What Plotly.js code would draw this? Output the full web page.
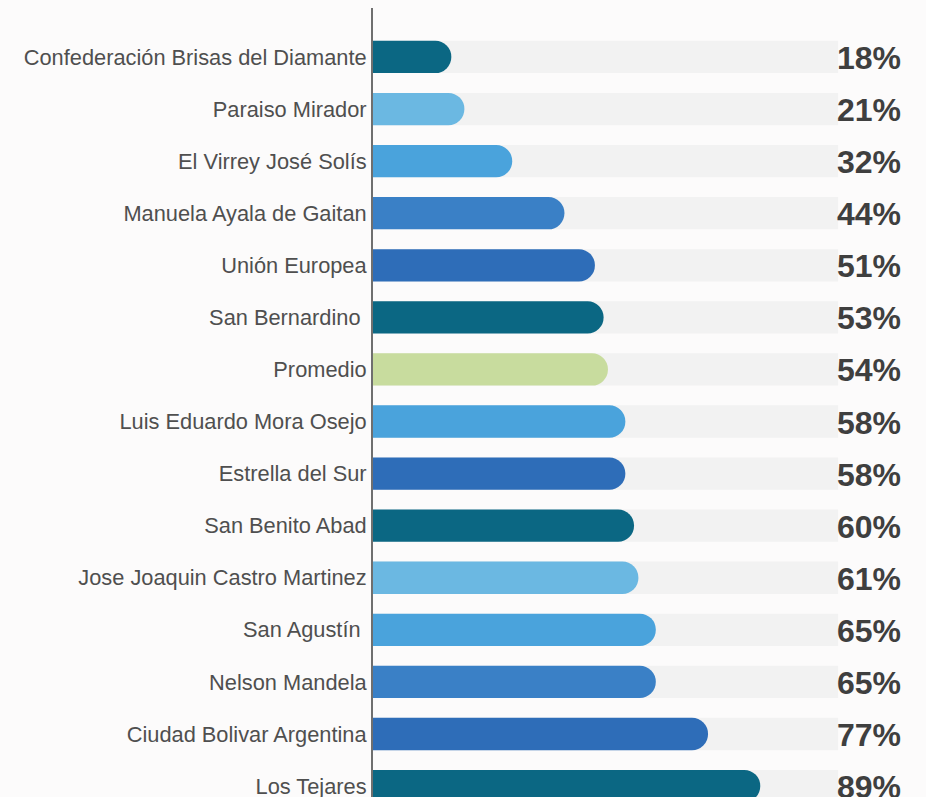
<!DOCTYPE html>
<html>
<head>
<meta charset="utf-8">
<script src="https://cdn.plot.ly/plotly-3.0.1.min.js"></script>
<style>
  html, body { margin: 0; padding: 0; background: #fcfbfb; }
  #chart { width: 926px; height: 797px; }
</style>
</head>
<body>
<div id="chart"></div>
<script>
const categories = [
  "Confederación Brisas del Diamante",
  "Paraiso Mirador",
  "El Virrey José Solís",
  "Manuela Ayala de Gaitan",
  "Unión Europea",
  "San Bernardino\u00a0",
  "Promedio",
  "Luis Eduardo Mora Osejo",
  "Estrella del Sur",
  "San Benito Abad",
  "Jose Joaquin Castro Martinez",
  "San Agustín\u00a0",
  "Nelson Mandela",
  "Ciudad Bolivar Argentina",
  "Los Tejares"
];
const values = [18, 21, 32, 44, 51, 53, 54, 58, 58, 60, 61, 65, 65, 77, 89];
const labels = ["18%", "21%", "32%", "44%", "51%", "53%", "54%", "58%", "58%", "60%", "61%", "65%", "65%", "77%", "89%"];
const barColors = [
  "#0b6783", "#6bb8e2", "#4aa3dc", "#3a80c6", "#2e6db8",
  "#0b6783", "#c8dc9e", "#4aa3dc", "#2e6db8", "#0b6783",
  "#6bb8e2", "#4aa3dc", "#3a80c6", "#2e6db8", "#0b6783"
];
const trackValue = 106.9;

const traces = [
  {
    type: "bar", orientation: "h",
    y: categories, x: categories.map(() => trackValue),
    marker: { color: "#f2f2f2" },
    width: 0.62, offset: -0.31, hoverinfo: "skip"
  },
  {
    type: "bar", orientation: "h",
    y: categories, x: values,
    marker: { color: barColors, cornerradius: 16 },
    width: 0.62, offset: -0.31, hoverinfo: "skip"
  }
];

const annotations = categories.map((c, i) => ({
  x: trackValue, y: c, xref: "x", yref: "y",
  text: labels[i], showarrow: false, xanchor: "left", yanchor: "middle",
  xshift: -3, yshift: -1,
  font: { family: "Liberation Sans, Arial, sans-serif", size: 32, color: "#3f3f3f", weight: "bold" }
}));

const layout = {
  width: 926, height: 797,
  margin: { l: 373, r: 0, t: 8, b: 0, pad: 0 },
  paper_bgcolor: "#fcfbfb",
  plot_bgcolor: "rgba(0,0,0,0)",
  barmode: "group",
  showlegend: false,
  xaxis: {
    range: [0, 127.1], showgrid: false, zeroline: false, showline: false,
    showticklabels: false, ticks: "", fixedrange: true
  },
  yaxis: {
    type: "category",
    range: [14.21, -0.94],
    showgrid: false, zeroline: false,
    showline: true, linecolor: "#6f6f6f", linewidth: 2,
    ticks: "", ticklabelstandoff: 0,
    tickfont: { family: "Liberation Sans, Arial, sans-serif", size: 21.8, color: "#4f4f4f" },
    fixedrange: true
  },
  annotations: annotations
};

Plotly.newPlot("chart", traces, layout, { displayModeBar: false }).then(function (gd) {
  // round the outer end of the value bars if the library did not
  const barTraces = gd.querySelectorAll(".barlayer .trace");
  if (barTraces.length < 2) return;
  barTraces[1].querySelectorAll("path").forEach(function (p) {
    const d = p.getAttribute("d") || "";
    if (/A/.test(d)) return;
    const m = d.match(/^M([\d.\-]+),([\d.\-]+)V([\d.\-]+)H([\d.\-]+)V([\d.\-]+)Z$/);
    if (!m) return;
    const x0 = +m[1], y0 = +m[2], y1 = +m[3], x1 = +m[4];
    const yt = Math.min(y0, y1), yb = Math.max(y0, y1);
    const r = Math.min(16, (yb - yt) / 2, Math.abs(x1 - x0));
    const nd = "M" + x0 + "," + yt + "H" + (x1 - r) +
      "A" + r + "," + r + " 0 0 1 " + x1 + "," + (yt + r) +
      "V" + (yb - r) +
      "A" + r + "," + r + " 0 0 1 " + (x1 - r) + "," + yb +
      "H" + x0 + "Z";
    p.setAttribute("d", nd);
    p.style.shapeRendering = "geometricPrecision";
  });
});
</script>
</body>
</html>
